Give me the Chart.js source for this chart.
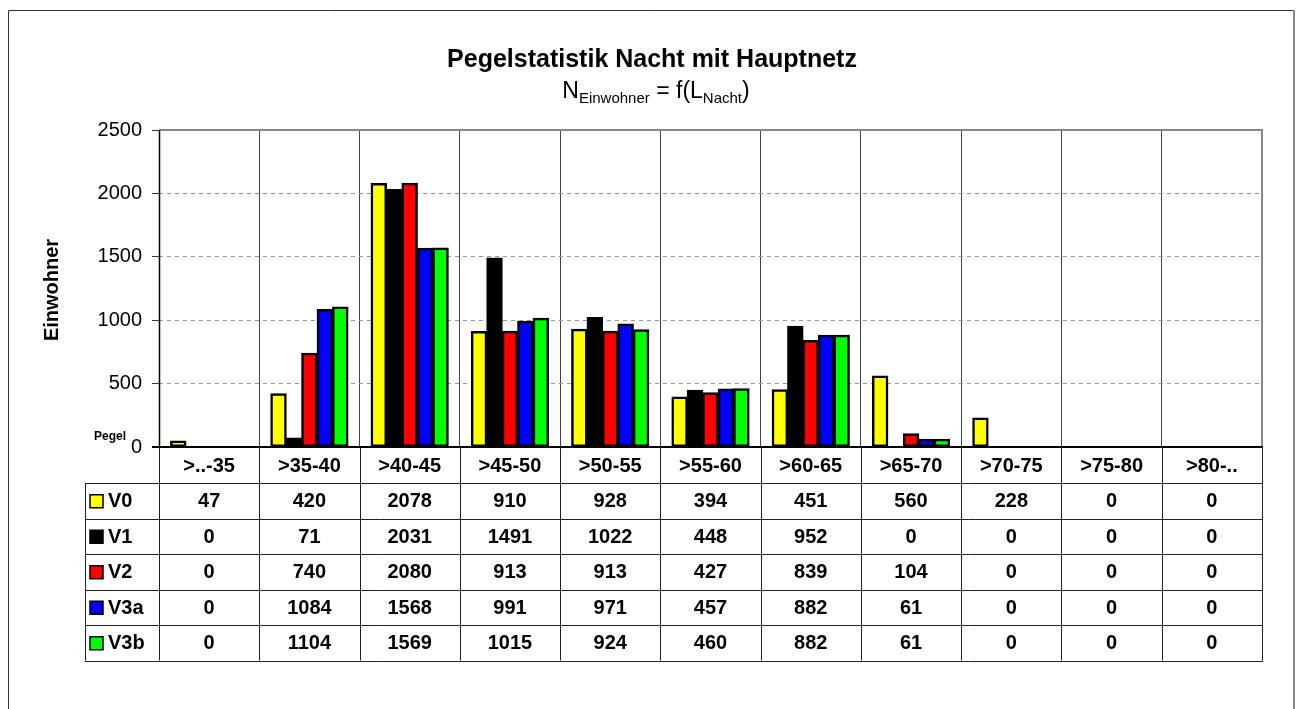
<!DOCTYPE html>
<html>
<head>
<meta charset="utf-8">
<script src="https://cdn.jsdelivr.net/npm/chart.js@4.4.1/dist/chart.umd.min.js"></script>
<style>
  html, body { margin: 0; padding: 0; background: #fff; }
  #wrap { width: 1296px; height: 709px; position: relative; }
</style>
</head>
<body>
<div id="wrap"><canvas id="c" width="1296" height="709"></canvas></div>
<script>
const categories = ['>..-35', '>35-40', '>40-45', '>45-50', '>50-55', '>55-60', '>60-65', '>65-70', '>70-75', '>75-80', '>80-..'];
const V0  = [47, 420, 2078, 910, 928, 394, 451, 560, 228, 0, 0];
const V1  = [0, 71, 2031, 1491, 1022, 448, 952, 0, 0, 0, 0];
const V2  = [0, 740, 2080, 913, 913, 427, 839, 104, 0, 0, 0];
const V3a = [0, 1084, 1568, 991, 971, 457, 882, 61, 0, 0, 0];
const V3b = [0, 1104, 1569, 1015, 924, 460, 882, 61, 0, 0, 0];
const seriesNames = ['V0', 'V1', 'V2', 'V3a', 'V3b'];
const seriesColors = ['#FFFF00', '#000000', '#FF0000', '#0000FF', '#00FF00'];
const yTicks = [0, 500, 1000, 1500, 2000, 2500];
const titleText = 'Pegelstatistik Nacht mit Hauptnetz';
const yTitle = 'Einwohner';
const cornerLabel = 'Pegel';

const seriesValues = [V0, V1, V2, V3a, V3b];
const FONT = '"Liberation Sans", Arial, Helvetica, sans-serif';

const layoutPlugin = {
  id: 'layoutPlugin',
  beforeDraw(chart) {
    const ctx = chart.ctx;
    ctx.save();
    ctx.fillStyle = '#fff';
    ctx.fillRect(0, 0, chart.width, chart.height);
    // outer frame
    ctx.strokeStyle = '#333';
    ctx.lineWidth = 1;
    ctx.beginPath();
    ctx.moveTo(8.5, 720); ctx.lineTo(8.5, 10.5); ctx.lineTo(1293, 10.5);
    ctx.stroke();
    ctx.strokeStyle = '#888';
    ctx.lineWidth = 2;
    ctx.beginPath();
    ctx.moveTo(1294, 10); ctx.lineTo(1294, 720);
    ctx.stroke();

    // title
    ctx.fillStyle = '#000';
    ctx.textAlign = 'center';
    ctx.textBaseline = 'alphabetic';
    ctx.font = 'bold 25px ' + FONT;
    ctx.fillText(titleText, 652, 67);

    // subtitle with subscripts
    const parts = [
      {t: 'N', s: 23, dy: 0},
      {t: 'Einwohner', s: 15, dy: 5},
      {t: ' = f(', s: 23, dy: 0},
      {t: 'L', s: 23, dy: 0},
      {t: 'Nacht', s: 15, dy: 5},
      {t: ')', s: 23, dy: 0}
    ];
    let total = 0;
    parts.forEach(p => { ctx.font = p.s + 'px ' + FONT; p.w = ctx.measureText(p.t).width; total += p.w; });
    let x = 656 - total / 2;
    ctx.textAlign = 'left';
    parts.forEach(p => {
      ctx.font = p.s + 'px ' + FONT;
      ctx.fillText(p.t, x, 98 + p.dy);
      x += p.w;
    });

    // y-axis title
    ctx.save();
    ctx.translate(52, 290);
    ctx.rotate(-Math.PI / 2);
    ctx.textAlign = 'center';
    ctx.textBaseline = 'middle';
    ctx.font = 'bold 20px ' + FONT;
    ctx.fillText(yTitle, 0, 0);
    ctx.restore();

    // corner label
    ctx.font = 'bold 12px ' + FONT;
    ctx.textAlign = 'center';
    ctx.textBaseline = 'alphabetic';
    ctx.fillText(cornerLabel, 110, 440);
    ctx.restore();
  },
  afterDraw(chart) {
    const ctx = chart.ctx;
    const xs = chart.scales.x;
    const ys = chart.scales.y;
    const area = chart.chartArea;
    const n = categories.length;
    const cw = (area.right - area.left) / n;
    const y0 = ys.getPixelForValue(0);
    const yTop = ys.getPixelForValue(2500);
    const headerBottom = y0 + 36;
    const rowH = 35.5;
    const tableBottom = headerBottom + rowH * seriesNames.length;
    const legendLeft = 85;

    ctx.save();
    // plot frame (top + right gray)
    ctx.strokeStyle = '#888';
    ctx.lineWidth = 2;
    ctx.beginPath();
    ctx.moveTo(area.left, yTop); ctx.lineTo(area.right, yTop); ctx.lineTo(area.right, y0);
    ctx.stroke();

    // table lines
    ctx.strokeStyle = '#222';
    ctx.lineWidth = 1;
    ctx.beginPath();
    for (let i = 0; i <= n; i++) {
      const ex = Math.round(area.left + i * cw) + 0.5;
      ctx.moveTo(ex, y0); ctx.lineTo(ex, tableBottom);
    }
    ctx.moveTo(legendLeft + 0.5, headerBottom); ctx.lineTo(legendLeft + 0.5, tableBottom);
    for (let r = 0; r <= seriesNames.length; r++) {
      const yy = Math.round(headerBottom + r * rowH) + 0.5;
      ctx.moveTo(legendLeft, yy); ctx.lineTo(area.right + 1, yy);
    }
    ctx.stroke();

    // y axis line and zero line
    ctx.strokeStyle = '#000';
    ctx.lineWidth = 1.5;
    ctx.beginPath();
    ctx.moveTo(area.left + 0.5, yTop); ctx.lineTo(area.left + 0.5, y0);
    ctx.stroke();
    ctx.lineWidth = 2;
    ctx.beginPath();
    ctx.moveTo(area.left - 7, y0); ctx.lineTo(area.right + 1, y0);
    ctx.stroke();

    // header labels
    ctx.fillStyle = '#000';
    ctx.textAlign = 'center';
    ctx.textBaseline = 'middle';
    ctx.font = 'bold 20px ' + FONT;
    categories.forEach((c, i) => {
      ctx.fillText(c, xs.getPixelForValue(i), (y0 + headerBottom) / 2 + 1);
    });
    // values + legend
    seriesNames.forEach((name, r) => {
      const cy = headerBottom + r * rowH + rowH / 2 + 1;
      seriesValues[r].forEach((v, i) => {
        ctx.textAlign = 'center';
        ctx.fillText(String(v), xs.getPixelForValue(i), cy);
      });
      ctx.fillStyle = seriesColors[r];
      ctx.fillRect(90, cy - 7, 13, 13);
      ctx.strokeStyle = '#000';
      ctx.lineWidth = 1.5;
      ctx.strokeRect(90, cy - 7, 13, 13);
      ctx.fillStyle = '#000';
      ctx.textAlign = 'left';
      ctx.fillText(name, 108, cy);
    });
    ctx.restore();
  }
};

const datasets = seriesNames.map((name, k) => ({
  label: name,
  data: seriesValues[k],
  backgroundColor: seriesColors[k],
  borderColor: '#000',
  borderWidth: 2.5,
  borderSkipped: false,
  inflateAmount: 0.5,
  categoryPercentage: 0.77,
  barPercentage: 1.0
}));

new Chart(document.getElementById('c'), {
  type: 'bar',
  data: { labels: categories, datasets },
  options: {
    responsive: false,
    animation: false,
    devicePixelRatio: 1,
    layout: { padding: { left: 0, top: 130, right: 34, bottom: 262 } },
    plugins: {
      legend: { display: false },
      title: { display: false },
      tooltip: { enabled: false }
    },
    scales: {
      x: {
        afterFit(s) { s.height = 0; },
        ticks: { display: false },
        grid: { offset: true, color: '#444', lineWidth: 1, drawTicks: false },
        border: { display: false }
      },
      y: {
        min: 0,
        max: 2500,
        afterFit(s) { s.width = 159; },
        afterBuildTicks(s) { s.ticks = yTicks.map(v => ({ value: v })); },
        ticks: {
          font: { family: FONT, size: 20 },
          color: '#000',
          padding: 10,
          callback: (v) => String(v)
        },
        grid: {
          color: (c) => (c.tick && (c.tick.value === 0 || c.tick.value === 2500)) ? 'rgba(0,0,0,0)' : '#999',
          tickColor: '#333',
          tickLength: 7,
          lineWidth: 1
        },
        border: {
          display: false,
          dash: (c) => (c.tick && (c.tick.value === 0 || c.tick.value === 2500)) ? [] : [4, 4]
        }
      }
    }
  },
  plugins: [layoutPlugin]
});
</script>
</body>
</html>
